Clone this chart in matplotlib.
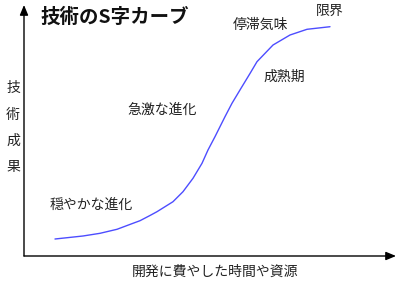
import matplotlib
matplotlib.use("Agg")
import matplotlib.pyplot as plt

plt.rcParams['font.family'] = ['Noto Sans CJK JP', 'DejaVu Sans']

# S-curve (x: effort 0-100, y: performance 0-100)
effort = [8.33, 15.86, 20.43, 25.0, 29.3, 31.18, 33.87, 35.75, 40.05, 42.74,
          45.43, 47.85, 49.46, 51.34, 54.03, 55.91, 58.33, 60.75, 62.63,
          66.94, 71.51, 76.08, 82.26]
performance = [6.77, 7.97, 9.04, 10.64, 13.03, 14.06, 16.14, 17.65, 21.63,
               25.62, 30.96, 36.93, 42.23, 47.53, 55.50, 60.84, 66.81, 72.71,
               77.41, 84.06, 88.05, 90.32, 91.35]

title = "技術のS字カーブ"
phase_labels = ["限界", "停滞気味", "成熟期", "急激な進化", "穏やかな進化"]
xlabel = "開発に費やした時間や資源"
ylabel = "技術成果"


def main():
    fig = plt.figure(figsize=(4.04, 2.94), dpi=100)
    ax = fig.add_axes([24 / 404, 38 / 294, 372 / 404, 251 / 294])
    ax.set_xlim(0, 100)
    ax.set_ylim(0, 100)
    ax.axis('off')

    # axes as arrows
    arrow = dict(arrowstyle='-|>,head_length=0.6,head_width=0.25',
                 color='black', lw=1.0, shrinkA=0, shrinkB=0)
    ax.annotate('', xy=(100, 0), xytext=(0, 0), arrowprops=arrow,
                annotation_clip=False)
    ax.annotate('', xy=(0, 100), xytext=(0, 0), arrowprops=arrow,
                annotation_clip=False)

    ax.plot(effort, performance, color='#4d4dff', lw=1.0,
            solid_joinstyle='round', solid_capstyle='round', clip_on=False)

    ax.text(4.3, 95.2, title, fontsize=14, fontweight='bold',
            ha='left', va='center', color='#111111')

    px = [82.3, 63.7, 69.9, 37.2, 18.1]
    py = [97.6, 92.0, 71.3, 58.2, 20.3]
    for lab, x, y in zip(phase_labels, px, py):
        ax.text(x, y, lab, fontsize=10, ha='center', va='center',
                color='#222222')

    ys = [66.9, 56.2, 45.8, 35.5]
    for ch, y in zip(ylabel, ys):
        ax.text(-2.96, y, ch, fontsize=10, ha='center', va='center',
                color='#222222')

    ax.text(51.3, -6.4, xlabel, fontsize=10, ha='center', va='center',
            color='#222222')

    fig.savefig("out.png", dpi=100)
    plt.close(fig)


if __name__ == "__main__":
    main()
